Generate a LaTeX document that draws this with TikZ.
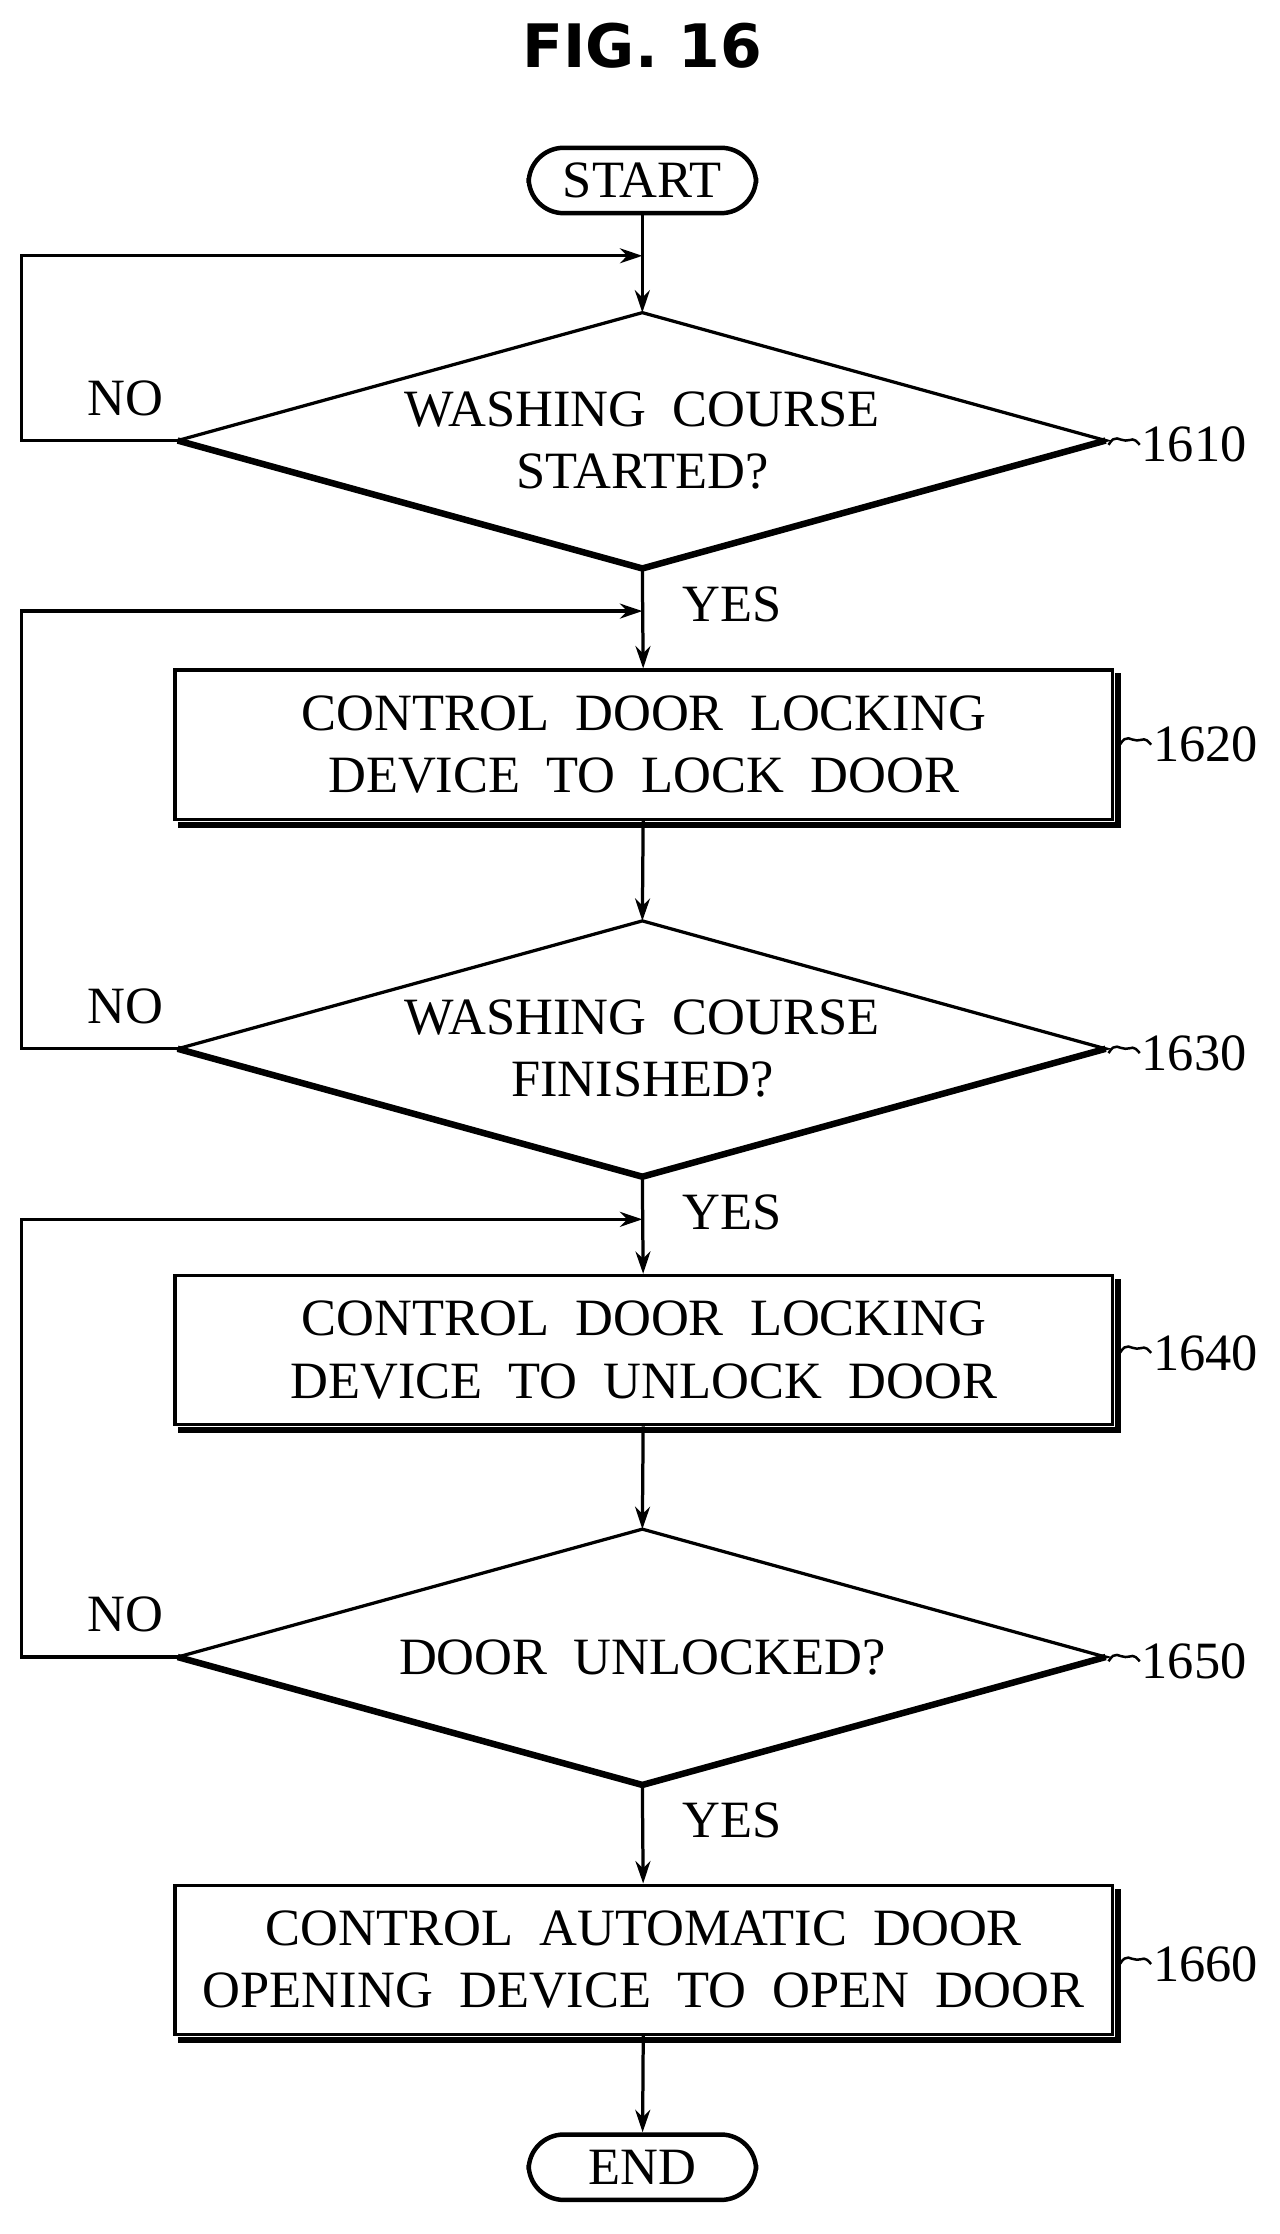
\documentclass[tikz,border=0pt]{standalone}
\usepackage{fontspec}
\setmainfont{Liberation Serif}
\newfontfamily\titlefont{DejaVu Sans}
\usetikzlibrary{shapes.geometric,arrows.meta}
\begin{document}
\begin{tikzpicture}[x=0.02cm,y=-0.02cm,
  every node/.style={font=\fontsize{21}{25}\selectfont},
  ln/.style={line width=1.3pt},
  ar/.style={ln,-{Stealth[length=9pt,width=6pt]}},
  dia/.style={draw,ln,diamond,aspect=3.63,minimum width=653\pgflinewidth,inner sep=0pt,align=center},
  term/.style={draw,ln,rounded corners=14pt,minimum width=3.2cm,minimum height=0.92cm,inner sep=0pt},
  box/.style={draw,ln,minimum width=13.2cm,minimum height=2.1cm,align=center,inner sep=0pt},
  ref/.style={anchor=west,inner sep=0pt}]
\useasboundingbox (0,0) rectangle (900,1572);
\node[font=\titlefont\bfseries\fontsize{24}{28}\selectfont] (title) at (452,32) {FIG. 16};
\node[term,line width=1.8pt] (start) at (452,127) {START};
% diamonds drawn as paths
\newcommand{\mydia}[3]{%
 \coordinate (#1n) at (452,#2-90); \coordinate (#1s) at (452,#2+90);
 \coordinate (#1w) at (125,#2); \coordinate (#1e) at (778,#2);
 \draw[ln] (#1n)--(#1e)--(#1s)--(#1w)--cycle;
 \draw[line width=2.6pt] (#1w)--(#1s)--(#1e);
 \node[align=center] (#1t) at (452,#2) {#3};}
\mydia{a}{310}{WASHING\ \ COURSE\\STARTED?}
\mydia{b}{738}{WASHING\ \ COURSE\\FINISHED?}
\mydia{c}{1166}{DOOR\ \ UNLOCKED?}
\newcommand{\mybox}[3]{%
 \node[box] (#1) at (453,#2) {#3};
 \draw[line width=2.4pt] ([xshift=2pt,yshift=-1.5pt]#1.south west)--([xshift=1.5pt,yshift=-1.5pt]#1.south east)--([xshift=1.5pt,yshift=-2pt]#1.north east);}
\mybox{p1}{524}{CONTROL\ \ DOOR\ \ LOCKING\\DEVICE\ \ TO\ \ LOCK\ \ DOOR}
\mybox{p2}{950}{CONTROL\ \ DOOR\ \ LOCKING\\DEVICE\ \ TO\ \ UNLOCK\ \ DOOR}
\mybox{p3}{1379}{CONTROL\ \ AUTOMATIC\ \ DOOR\\OPENING\ \ DEVICE\ \ TO\ \ OPEN\ \ DOOR}
\node[term,line width=1.8pt] (end) at (452,1525) {END};
% joins
\coordinate (j1) at (452,180); \coordinate (j2) at (452,430); \coordinate (j3) at (452,858);
\draw[ar] (start) -- (an);
\draw[ar] (aw) -- (15,310) -- (15,180) -- (j1);
\draw[ar] (as) -- (p1);
\draw[ar] (bw) -- (15,738) -- (15,430) -- (j2);
\draw[ar] (p1) -- (bn);
\draw[ar] (bs) -- (p2);
\draw[ar] (cw) -- (15,1166) -- (15,858) -- (j3);
\draw[ar] (p2) -- (cn);
\draw[ar] (cs) -- (p3);
\draw[ar] (p3) -- (end);
% labels
\node (n1) at (88,280) {NO}; \node (n2) at (88,708) {NO}; \node (n3) at (88,1136) {NO};
\node (y1) at (515,425) {YES}; \node (y2) at (515,853) {YES}; \node (y3) at (515,1281) {YES};
\newcommand{\reflab}[3]{%
 \coordinate (#1a) at (#2,#3);
 \draw[line width=1pt] (#1a) .. controls ++(5,-8) and ++(-5,0) .. ++(12,-3) .. controls ++(5,0) and ++(-5,-6) .. ++(10,3);
 \node[ref] (#1) at (#2+23,#3) {#1};}
\reflab{1610}{780}{313}
\reflab{1620}{788}{524}
\reflab{1630}{780}{741}
\reflab{1640}{788}{952}
\reflab{1650}{780}{1169}
\reflab{1660}{788}{1382}
\end{tikzpicture}
\end{document}
